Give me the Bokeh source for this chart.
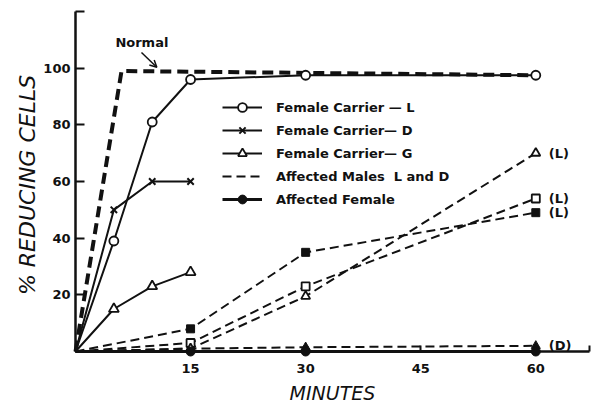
from bokeh.plotting import figure
from bokeh.models import Range1d, FixedTicker, Legend, LegendItem, Label, Arrow, OpenHead
from bokeh.embed import file_html
from bokeh.resources import INLINE
from bokeh.core.properties import value

# ---- data ----
minutes_normal = [0, 6, 60]
normal = [0, 99, 97.5]

minutes_carrier_l = [0, 5, 10, 15, 30, 60]
carrier_l = [0, 39, 81, 96, 97.5, 97.5]

minutes_carrier = [0, 5, 10, 15]
carrier_d = [0, 50, 60, 60]
carrier_g = [0, 15, 23, 28]

minutes_affected = [0, 15, 30, 60]
males_l_square = [0, 3, 23, 54]
males_l_triangle = [0, 1, 19.5, 70]
males_d = [0, 1, 1.5, 2]
female_l = [0, 8, 35, 49]
female_d = [0, 0, 0, 0]

x_ticks = [15, 30, 45, 60, 67]
x_tick_labels = {67: ""}
y_ticks = [20, 40, 60, 80, 100, 120]
y_tick_labels = {120: ""}

legend_labels = ["Female Carrier \u2014 L", "Female Carrier\u2014 D", "Female Carrier\u2014 G",
                 "Affected Males  L and D", "Affected Female"]

FONT = "DejaVu Sans"
BLACK = "#111111"
LVL = "overlay"

p = figure(width=594, height=406, x_range=Range1d(0, 67), y_range=Range1d(0, 120),
           output_backend="svg", toolbar_location=None,
           min_border_left=75, min_border_right=5, min_border_top=11, min_border_bottom=53)
p.outline_line_color = None
p.grid.visible = False
p.background_fill_color = "white"
p.border_fill_color = "white"

# x axis
xa = p.xaxis[0]
xa.ticker = FixedTicker(ticks=x_ticks)
xa.major_label_overrides = x_tick_labels
xa.major_tick_in = 6
xa.major_tick_out = 0
xa.minor_tick_line_color = None
xa.axis_line_width = 2.5
xa.axis_line_color = BLACK
xa.major_tick_line_width = 2
xa.major_tick_line_color = BLACK
xa.major_label_standoff = 12
xa.major_label_text_font = FONT
xa.major_label_text_font_style = "bold"
xa.major_label_text_font_size = "13px"
xa.major_label_text_color = BLACK
xa.axis_label = "MINUTES"
xa.axis_label_text_font = FONT
xa.axis_label_text_font_style = "italic"
xa.axis_label_text_font_size = "19px"
xa.axis_label_text_color = BLACK
xa.axis_label_standoff = 6

# y axis
ya = p.yaxis[0]
ya.ticker = FixedTicker(ticks=y_ticks)
ya.major_label_overrides = y_tick_labels
ya.major_tick_in = 9
ya.major_tick_out = 0
ya.minor_tick_line_color = None
ya.axis_line_width = 2.5
ya.axis_line_color = BLACK
ya.major_tick_line_width = 2
ya.major_tick_line_color = BLACK
ya.major_label_standoff = 5
ya.major_label_text_font = FONT
ya.major_label_text_font_style = "bold"
ya.major_label_text_font_size = "13px"
ya.major_label_text_color = BLACK
ya.axis_label = "% REDUCING  CELLS"
ya.axis_label_text_font = FONT
ya.axis_label_text_font_style = "italic"
ya.axis_label_text_font_size = "22px"
ya.axis_label_text_color = BLACK
ya.axis_label_standoff = 0

# Normal
p.line(minutes_normal, normal, line_width=4, line_dash="11 6", color=BLACK, level=LVL)

# Female carrier L
r_l_line = p.line(minutes_carrier_l, carrier_l, line_width=2, color=BLACK, level=LVL)
r_l_mk = p.scatter(minutes_carrier_l[1:], carrier_l[1:], marker="circle", size=9,
                   fill_color="white", line_color=BLACK, line_width=1.8, level=LVL)

# Female carrier D
r_d_line = p.line(minutes_carrier, carrier_d, line_width=2, color=BLACK, level=LVL)
r_d_mk = p.scatter(minutes_carrier[1:], carrier_d[1:], marker="x", size=9,
                   line_color=BLACK, line_width=2, level=LVL)

# Female carrier G
r_g_line = p.line(minutes_carrier, carrier_g, line_width=2, color=BLACK, level=LVL)
r_g_mk = p.scatter(minutes_carrier[1:], carrier_g[1:], marker="triangle", size=10,
                   fill_color="white", line_color=BLACK, line_width=1.8, level=LVL)

# Affected males (dashed)
DASH = "9 5"
r_m_line = p.line(minutes_affected, males_l_square, line_width=2, line_dash=DASH, color=BLACK, level=LVL)
p.scatter(minutes_affected[1:], males_l_square[1:], marker="square", size=8,
          fill_color="white", line_color=BLACK, line_width=1.8, level=LVL)
p.line(minutes_affected, males_l_triangle, line_width=2, line_dash=DASH, color=BLACK, level=LVL)
p.scatter(minutes_affected[1:], males_l_triangle[1:], marker="triangle", size=9,
          fill_color="white", line_color=BLACK, line_width=1.8, level=LVL)
p.line(minutes_affected, males_d, line_width=2, line_dash=DASH, color=BLACK, level=LVL)
p.scatter(minutes_affected[2:], males_d[2:], marker="triangle", size=9,
          fill_color=BLACK, line_color=BLACK, level=LVL)

# Affected female
p.line(minutes_affected, female_l, line_width=2, line_dash=DASH, color=BLACK, level=LVL)
p.scatter(minutes_affected[1:], female_l[1:], marker="square", size=8,
          fill_color=BLACK, line_color=BLACK, level=LVL)
r_f_line = p.line(minutes_affected, female_d, line_width=3, color=BLACK, level=LVL)
r_f_mk = p.scatter(minutes_affected[1:], female_d[1:], marker="circle", size=9,
                   fill_color=BLACK, line_color=BLACK, level=LVL)

# end labels
p.text(x=[minutes_affected[-1]] * 3,
       y=[males_l_triangle[-1], males_l_square[-1], female_l[-1]],
       text=["(L)", "(L)", "(L)"], x_offset=13, text_baseline="middle",
       text_font=value(FONT), text_font_style="bold", text_font_size="13px",
       text_color=BLACK, level=LVL)
p.text(x=[minutes_affected[-1]], y=[males_d[-1]], text=["(D)"], x_offset=13,
       text_baseline="middle", text_font=value(FONT), text_font_style="bold",
       text_font_size="13px", text_color=BLACK, level=LVL)

# Normal annotation
p.add_layout(Label(x=5.2, y=109, text="Normal", text_baseline="middle",
                   text_font=FONT, text_font_style="bold", text_font_size="13px",
                   text_color=BLACK))
p.add_layout(Arrow(x_start=8.6, y_start=105.5, x_end=10.6, y_end=100.3,
                   line_width=1.5, line_color=BLACK,
                   end=OpenHead(size=7, line_width=1.5, line_color=BLACK)))

legend = Legend(items=[
    LegendItem(label=legend_labels[0], renderers=[r_l_line, r_l_mk]),
    LegendItem(label=legend_labels[1], renderers=[r_d_line, r_d_mk]),
    LegendItem(label=legend_labels[2], renderers=[r_g_line, r_g_mk]),
    LegendItem(label=legend_labels[3], renderers=[r_m_line]),
    LegendItem(label=legend_labels[4], renderers=[r_f_line, r_f_mk]),
], location=(147, 141))
legend.glyph_width = 40
legend.glyph_height = 22
legend.label_height = 22
legend.label_standoff = 14
legend.spacing = 1
legend.padding = 0
legend.margin = 0
legend.border_line_color = None
legend.background_fill_alpha = 0
legend.label_text_font = FONT
legend.label_text_font_style = "bold"
legend.label_text_font_size = "13px"
legend.label_text_color = BLACK
p.add_layout(legend)

open("out.html", "w").write(file_html(p, INLINE))
